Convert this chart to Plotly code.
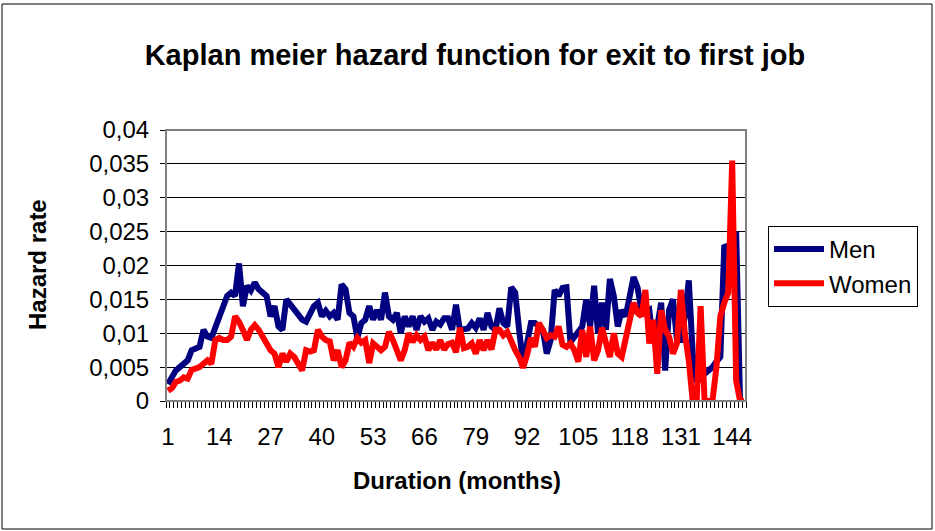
import plotly.graph_objects as go

durations = list(range(1, 148))

men = [
    0.0025, 0.0035, 0.0045, 0.005, 0.0055, 0.006, 0.0075, 0.0078, 0.008, 0.0105,
    0.0095, 0.0093, 0.011, 0.0125, 0.014, 0.0155, 0.016, 0.0155, 0.0203, 0.014,
    0.017, 0.0163, 0.0175, 0.0165, 0.016, 0.0155, 0.0125, 0.014, 0.011, 0.0105,
    0.015, 0.0143, 0.0135, 0.0127, 0.012, 0.0117, 0.013, 0.014, 0.0145, 0.0125,
    0.0133, 0.0125, 0.013, 0.012, 0.0172, 0.0165, 0.013, 0.0125, 0.0093, 0.0115,
    0.012, 0.014, 0.012, 0.0134, 0.012, 0.016, 0.0125, 0.012, 0.013, 0.01,
    0.0125, 0.011, 0.0125, 0.0105, 0.0125, 0.0117, 0.0122, 0.0105, 0.0117, 0.0113,
    0.0122, 0.0122, 0.0105, 0.0142, 0.0105, 0.0107, 0.0107, 0.0115, 0.0108, 0.0122,
    0.0105, 0.013, 0.011, 0.0105, 0.0137, 0.0115, 0.011, 0.0168, 0.016, 0.0105,
    0.0055, 0.0085, 0.0115, 0.0115, 0.011, 0.0105, 0.007, 0.009, 0.0164, 0.0155,
    0.0167, 0.0168, 0.0087, 0.0095, 0.0105, 0.011, 0.015, 0.011, 0.017, 0.01,
    0.0145, 0.0105, 0.018, 0.0155, 0.011, 0.0134, 0.0125, 0.015, 0.0183, 0.0168,
    0.0134, 0.013, 0.0134, 0.0086, 0.011, 0.0145, 0.0045, 0.0134, 0.015, 0.009,
    0.009, 0.0125, 0.0178, 0.007, 0.0028, 0.0035, 0.004, 0.0045, 0.005, 0.0058,
    0.0065, 0.023, 0.0225, 0.019, 0.025, 0, 0,
]

women = [
    0.0015, 0.0019, 0.0028, 0.003, 0.0035, 0.0033, 0.0046, 0.0048, 0.005, 0.0055,
    0.006, 0.0055, 0.009, 0.0093, 0.009, 0.009, 0.0095, 0.0125, 0.0117, 0.0105,
    0.009, 0.0105, 0.0112, 0.0105, 0.0095, 0.0085, 0.0075, 0.007, 0.005, 0.007,
    0.0058, 0.007, 0.0065, 0.0055, 0.0045, 0.0075, 0.0073, 0.0075, 0.0105, 0.0095,
    0.009, 0.0088, 0.006, 0.0075, 0.005, 0.006, 0.0086, 0.008, 0.0093, 0.0086,
    0.009, 0.0056, 0.0085, 0.008, 0.0075, 0.008, 0.0102, 0.009, 0.0075, 0.006,
    0.0075, 0.01, 0.0087, 0.0097, 0.009, 0.0095, 0.0075, 0.0086, 0.0076, 0.009,
    0.0076, 0.0084, 0.0086, 0.0072, 0.0108, 0.0078, 0.008, 0.0085, 0.007, 0.009,
    0.0075, 0.009, 0.0076, 0.0105, 0.0105, 0.0097, 0.0102, 0.0086, 0.0075, 0.0065,
    0.0049, 0.0068, 0.0093, 0.008, 0.0115, 0.0105, 0.0093, 0.0097, 0.0095, 0.011,
    0.0083, 0.008, 0.0085, 0.0075, 0.0058, 0.0105, 0.0065, 0.011, 0.006, 0.0075,
    0.0108, 0.0086, 0.0065, 0.01, 0.007, 0.0065, 0.009, 0.0117, 0.0145, 0.013,
    0.0125, 0.0164, 0.0085, 0.012, 0.004, 0.0134, 0.0105, 0.0095, 0.007, 0.0085,
    0.0164, 0.01, 0.006, 0, 0, 0.014, 0, 0, 0, 0.005,
    0.0125, 0.0145, 0.016, 0.0355, 0.003, 0, 0,
]

y_tickvals = [0, 0.005, 0.01, 0.015, 0.02, 0.025, 0.03, 0.035, 0.04]
y_ticktext = ["0", "0,005", "0,01", "0,015", "0,02", "0,025", "0,03", "0,035", "0,04"]

FONT = "Arial, Liberation Sans, sans-serif"
W, H = 935, 531
L, R, T, B = 166, 746, 130, 401

fig = go.Figure()
fig.add_trace(go.Scatter(x=durations, y=men, name="Men", mode="lines",
                         line=dict(color="#000080", width=6)))
fig.add_trace(go.Scatter(x=durations, y=women, name="Women", mode="lines",
                         line=dict(color="#FF0000", width=6)))

def px_x(x):
    return (x - L) / (R - L)

def px_y(y):
    return (B - y) / (B - T)

fig.update_layout(
    width=W, height=H,
    margin=dict(l=L, r=W - R, t=T, b=H - B, pad=0, autoexpand=False),
    paper_bgcolor="white", plot_bgcolor="white",
    font=dict(family=FONT, size=24, color="black"),
    title=dict(text="<b>Kaplan meier hazard function for exit to first job</b>",
               font=dict(size=29, family=FONT, color="black"),
               x=0.508, xanchor="center", y=1 - 55 / H, yanchor="middle"),
    showlegend=True,
    legend=dict(x=px_x(768), y=px_y(226), xanchor="left", yanchor="top",
                bordercolor="black", borderwidth=1, bgcolor="white",
                font=dict(size=24, family=FONT), tracegroupgap=0,
                itemwidth=50),
    xaxis=dict(range=[0.5, 147.5], tickmode="linear", tick0=1, dtick=13,
               ticks="", showgrid=False, zeroline=False, automargin=False,
               showline=True, linecolor="black", linewidth=1,
               tickfont=dict(size=24), ticklabelstandoff=14,
               minor=dict(ticks="outside", ticklen=6, tickcolor="black",
                          tick0=0.5, dtick=1, showgrid=False)),
    yaxis=dict(range=[0, 0.04], tickmode="array", tickvals=y_tickvals,
               ticktext=y_ticktext, ticks="outside", ticklen=5,
               tickcolor="black", showgrid=True, gridcolor="black",
               gridwidth=1, zeroline=False, showline=True, automargin=False,
               linecolor="black", linewidth=1, tickfont=dict(size=24),
               ticklabelstandoff=6),
    annotations=[
        dict(text="<b>Hazard rate</b>", x=px_x(37), y=px_y(265),
             xref="paper", yref="paper", showarrow=False, textangle=-90,
             font=dict(size=24, family=FONT), xanchor="center", yanchor="middle"),
        dict(text="<b>Duration (months)</b>", x=px_x(457), y=px_y(480),
             xref="paper", yref="paper", showarrow=False,
             font=dict(size=24, family=FONT), xanchor="center", yanchor="middle"),
    ],
    shapes=[
        dict(type="rect", xref="paper", yref="paper", x0=0, x1=1, y0=0, y1=1,
             line=dict(color="#808080", width=2), layer="above"),
        dict(type="rect", xref="paper", yref="paper",
             x0=px_x(2), x1=px_x(932), y0=px_y(529), y1=px_y(4),
             line=dict(color="black", width=1)),
    ],
)

fig.write_html("out.html",
               config={"displayModeBar": False},
               post_script="document.body.style.margin='0';document.body.style.overflow='hidden';")
